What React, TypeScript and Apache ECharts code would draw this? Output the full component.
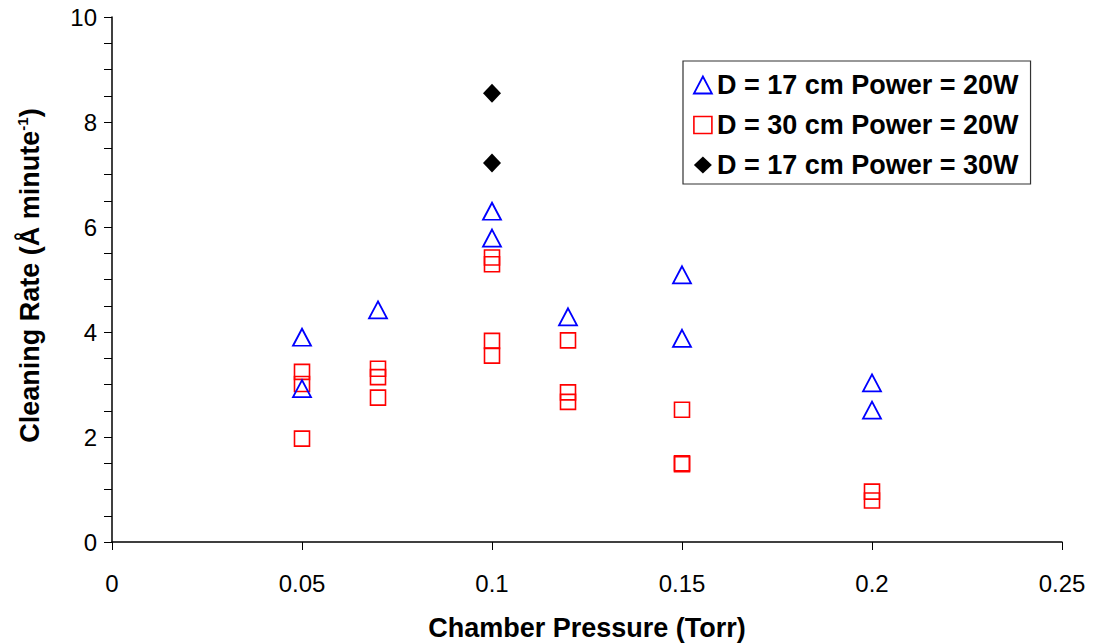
import React, { useEffect, useRef } from "react";
import * as echarts from "echarts";

const seriesNames = [
  "D = 17 cm Power = 20W",
  "D = 30 cm Power = 20W",
  "D = 17 cm Power = 30W",
];

// D = 17 cm, 20 W (open triangles)
const d17p20X = [0.05, 0.05, 0.07, 0.1, 0.1, 0.12, 0.15, 0.15, 0.2, 0.2];
const d17p20Y = [3.9, 2.92, 4.42, 6.3, 5.79, 4.29, 5.09, 3.88, 3.03, 2.51];

// D = 30 cm, 20 W (open squares)
const d30p20X = [0.05, 0.05, 0.05, 0.07, 0.07, 0.07, 0.1, 0.1, 0.1, 0.1, 0.12, 0.12, 0.12, 0.15, 0.15, 0.15, 0.2, 0.2];
const d30p20Y = [3.24, 3.01, 1.97, 3.3, 3.14, 2.75, 5.42, 5.29, 3.83, 3.55, 3.84, 2.85, 2.67, 2.52, 1.5, 1.48, 0.96, 0.79];

// D = 17 cm, 30 W (filled diamonds)
const d17p30X = [0.1, 0.1];
const d17p30Y = [8.55, 7.22];

const xTicks = { min: 0, max: 0.25, interval: 0.05 };
const yTicks = { min: 0, max: 10, interval: 2 };

const zip = (xs: number[], ys: number[]) => xs.map((x, i) => [x, ys[i]]);

export default function App() {
  const ref = useRef<HTMLDivElement>(null);
  useEffect(() => {
    if (!ref.current) return;
    const chart = echarts.init(ref.current, null, { renderer: "svg" });
    const font = "'Liberation Sans', Arial, Helvetica, sans-serif";
    const blueStyle = { color: "rgba(0,0,0,0)", borderColor: "#0000ff", borderWidth: 1.8, opacity: 1 };
    const redStyle = { color: "rgba(0,0,0,0)", borderColor: "#ff0000", borderWidth: 1.6, opacity: 1 };
    const blackStyle = { color: "#000000", borderWidth: 0, opacity: 1 };
    chart.setOption({
      animation: false,
      backgroundColor: "#ffffff",
      textStyle: { fontFamily: font },
      grid: {
        left: 112,
        right: 34,
        top: 17,
        bottom: 101,
        containLabel: false,
        outerBoundsMode: "none",
      },
      legend: {
        orient: "vertical",
        left: 683,
        top: 61,
        backgroundColor: "#ffffff",
        borderColor: "#333333",
        borderWidth: 1.2,
        padding: [10, 12, 5, 10],
        itemGap: 12,
        itemWidth: 18,
        itemHeight: 17,
        textStyle: { fontFamily: font, fontSize: 27, fontWeight: "bold", color: "#000", lineHeight: 28 },
        data: [
          { name: seriesNames[0], icon: "triangle", itemStyle: blueStyle },
          { name: seriesNames[1], icon: "rect", itemStyle: redStyle },
          { name: seriesNames[2], icon: "diamond", itemStyle: blackStyle },
        ],
      },
      xAxis: {
        type: "value",
        min: xTicks.min,
        max: xTicks.max,
        interval: xTicks.interval,
        name: "Chamber Pressure (Torr)",
        nameLocation: "middle",
        nameGap: 72,
        nameTextStyle: { fontFamily: font, fontSize: 27, fontWeight: "bold", color: "#000", lineHeight: 27 },
        axisLine: { show: true, onZero: false, lineStyle: { color: "#000", width: 1.5 } },
        axisTick: { show: true, inside: false, length: 8, lineStyle: { color: "#000", width: 1 } },
        axisLabel: { fontFamily: font, fontSize: 24, color: "#000", margin: 29 },
        splitLine: { show: false },
      },
      yAxis: {
        type: "value",
        min: yTicks.min,
        max: yTicks.max,
        interval: yTicks.interval,
        name: "{a|Cleaning Rate (Å minute}{s|-1}{a|)}",
        nameLocation: "middle",
        nameGap: 67,
        nameRotate: 90,
        nameTextStyle: {
          fontFamily: font,
          fontSize: 27,
          fontWeight: "bold",
          color: "#000",
          padding: [0, 0, 0, 8],
          rich: {
            a: { fontFamily: font, fontSize: 27, fontWeight: "bold", color: "#000", lineHeight: 30 },
            s: { fontFamily: font, fontSize: 15, fontWeight: "bold", color: "#000", verticalAlign: "top", lineHeight: 16 },
          },
        },
        axisLine: { show: true, onZero: false, lineStyle: { color: "#000", width: 1.5 } },
        axisTick: { show: true, inside: false, length: 8, lineStyle: { color: "#000", width: 1 } },
        minorTick: { show: true, splitNumber: 4, length: 8, lineStyle: { color: "#000", width: 1 } },
        axisLabel: { fontFamily: font, fontSize: 24, color: "#000", margin: 15 },
        splitLine: { show: false },
        minorSplitLine: { show: false },
      },
      series: [
        {
          name: seriesNames[0],
          type: "scatter",
          symbol: "triangle",
          symbolSize: [18, 17],
          itemStyle: blueStyle,
          data: zip(d17p20X, d17p20Y),
          z: 3,
        },
        {
          name: seriesNames[1],
          type: "scatter",
          symbol: "rect",
          symbolSize: [15, 15],
          itemStyle: redStyle,
          data: zip(d30p20X, d30p20Y),
          z: 2,
        },
        {
          name: seriesNames[2],
          type: "scatter",
          symbol: "diamond",
          symbolSize: [18, 19],
          itemStyle: blackStyle,
          data: zip(d17p30X, d17p30Y),
          z: 4,
        },
      ],
    });
    return () => chart.dispose();
  }, []);
  return (
    <div
      ref={ref}
      style={{ position: "fixed", left: 0, top: 0, width: 1096, height: 643, background: "#fff" }}
    />
  );
}
